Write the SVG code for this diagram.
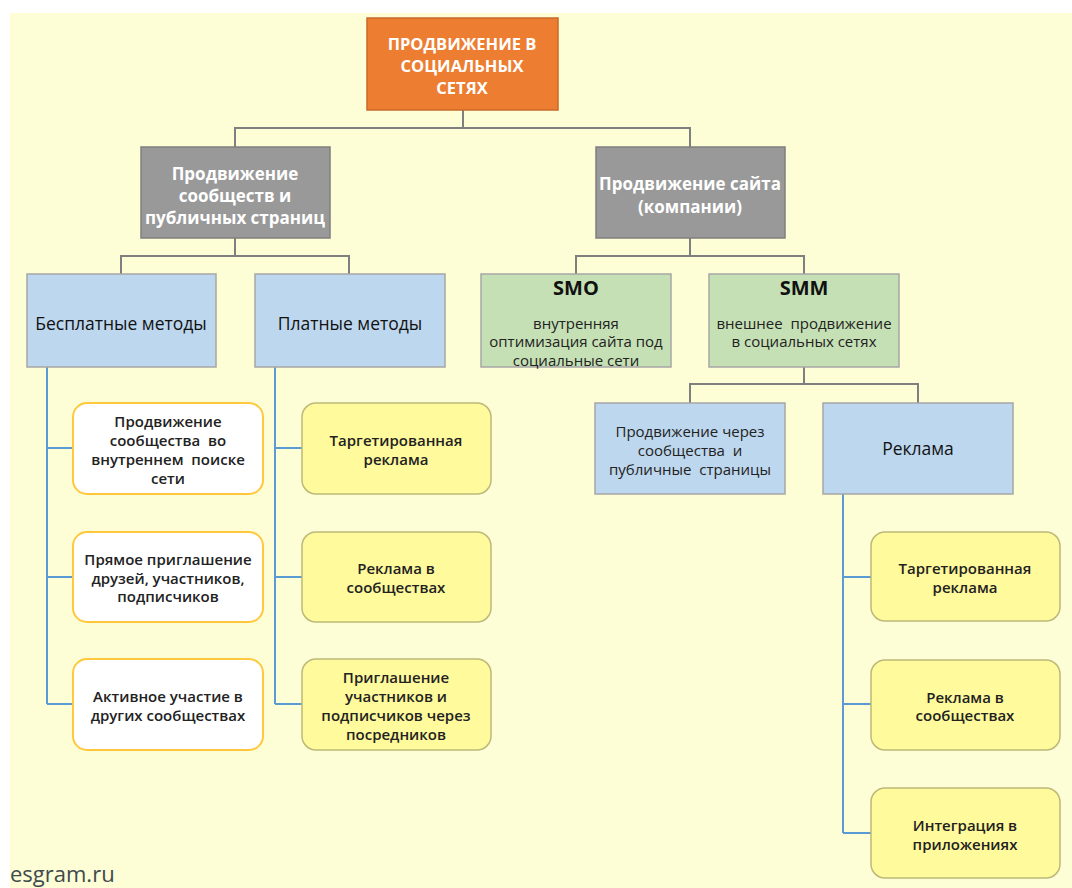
<svg xmlns="http://www.w3.org/2000/svg" width="1072" height="888" viewBox="0 0 1072 888">
<style>
.bg{fill:#FDFDD6}
.orange{fill:#ED7D31;stroke:#C8692A;stroke-width:1.5}
.gray{fill:#999999;stroke:#7F7F7F;stroke-width:1.5}
.blue{fill:#BDD7EE;stroke:#A6A6A6;stroke-width:1.5}
.green{fill:#C5E0B4;stroke:#A6A6A6;stroke-width:1.5}
.white{fill:#FFFFFF;stroke:#FFC83D;stroke-width:2}
.yellow{fill:#FFFA9B;stroke:#BDB97A;stroke-width:1.5}
.cg{fill:none;stroke:#7F7F7F;stroke-width:2}
.cb{fill:none;stroke:#5B9BD5;stroke-width:2}
text{font-family:"Open Sans","Liberation Sans",sans-serif;text-anchor:middle;dominant-baseline:central}
.t0{fill:#FFFFFF;font-weight:700;font-size:16.5px}
.t1{fill:#FFFFFF;font-weight:700;font-size:17px}
.t2{fill:#111111;font-size:17.5px}
.t3{fill:#111111;font-weight:700;font-size:20px}
.t4{fill:#222222;font-size:15px}
.t6{fill:#222222;font-size:15px}
.t5{fill:#222222;font-weight:600;font-size:15px}
.wm{fill:#3E4B4B;font-size:22px;text-anchor:start;dominant-baseline:auto}
</style>
<rect class="bg" x="10" y="13" width="1062" height="875"/>
<g id="connectors">
<path class="cg" d="M463 110V128M235 147V128H690V147"/>
<path class="cg" d="M235 238V256M121 274V256H349V274"/>
<path class="cg" d="M690 238V256M576 274V256H804V274"/>
<path class="cg" d="M804 367V384M690 403V384H918V403"/>
<path class="cb" d="M47 367V704M47 448H73M47 577H73M47 704H73"/>
<path class="cb" d="M275 367V704M275 448H302M275 577H302M275 704H302"/>
<path class="cb" d="M843 494V833M843 577H871M843 704H871M843 833H871"/>
</g>
<g id="root">
<rect class="orange" x="367" y="18" width="191" height="92"/>
<text class="t0" x="462" y="43">ПРОДВИЖЕНИЕ В</text>
<text class="t0" x="462" y="65">СОЦИАЛЬНЫХ</text>
<text class="t0" x="462" y="87">СЕТЯХ</text>
</g>
<g id="communities">
<rect class="gray" x="141" y="147" width="189" height="91"/>
<text class="t1" x="235" y="173">Продвижение</text>
<text class="t1" x="235" y="195">сообществ и</text>
<text class="t1" x="235" y="217">публичных страниц</text>
</g>
<g id="site">
<rect class="gray" x="596" y="147" width="189" height="91"/>
<text class="t1" x="690" y="183">Продвижение сайта</text>
<text class="t1" x="690" y="206">(компании)</text>
</g>
<g id="free">
<rect class="blue" x="27" y="274" width="189" height="93"/>
<text class="t2" x="121" y="323">Бесплатные методы</text>
</g>
<g id="paid">
<rect class="blue" x="255" y="274" width="190" height="93"/>
<text class="t2" x="350" y="323">Платные методы</text>
</g>
<g id="smo">
<rect class="green" x="481" y="274" width="190" height="93"/>
<text class="t3" x="576" y="287">SMO</text>
<text class="t4" x="576" y="323">внутренняя</text>
<text class="t4" x="576" y="341">оптимизация сайта под</text>
<text class="t4" x="576" y="360">социальные сети</text>
</g>
<g id="smm">
<rect class="green" x="709" y="274" width="190" height="93"/>
<text class="t3" x="804" y="287">SMM</text>
<text class="t4" x="804" y="323" xml:space="preserve">внешнее  продвижение</text>
<text class="t4" x="804" y="341">в социальных сетях</text>
</g>
<g id="via-communities">
<rect class="blue" x="595" y="403" width="190" height="91"/>
<text class="t6" x="690" y="431">Продвижение через</text>
<text class="t6" x="690" y="450" xml:space="preserve">сообщества  и</text>
<text class="t6" x="690" y="469" xml:space="preserve">публичные  страницы</text>
</g>
<g id="ads">
<rect class="blue" x="823" y="403" width="190" height="91"/>
<text class="t2" x="918" y="448">Реклама</text>
</g>
<g id="free1">
<rect class="white" x="73" y="403" width="190" height="91" rx="14"/>
<text class="t5" x="168" y="421">Продвижение</text>
<text class="t5" x="168" y="440" xml:space="preserve">сообщества  во</text>
<text class="t5" x="168" y="459" xml:space="preserve">внутреннем  поиске</text>
<text class="t5" x="168" y="478">сети</text>
</g>
<g id="free2">
<rect class="white" x="73" y="532" width="190" height="90" rx="14"/>
<text class="t5" x="168" y="559">Прямое приглашение</text>
<text class="t5" x="168" y="578">друзей, участников,</text>
<text class="t5" x="168" y="596">подписчиков</text>
</g>
<g id="free3">
<rect class="white" x="73" y="659" width="190" height="91" rx="14"/>
<text class="t5" x="168" y="696">Активное участие в</text>
<text class="t5" x="168" y="715">других сообществах</text>
</g>
<g id="paid1">
<rect class="yellow" x="302" y="403" width="189" height="91" rx="14"/>
<text class="t5" x="396" y="440">Таргетированная</text>
<text class="t5" x="396" y="459">реклама</text>
</g>
<g id="paid2">
<rect class="yellow" x="302" y="532" width="189" height="90" rx="14"/>
<text class="t5" x="396" y="568">Реклама в</text>
<text class="t5" x="396" y="587">сообществах</text>
</g>
<g id="paid3">
<rect class="yellow" x="302" y="659" width="189" height="91" rx="14"/>
<text class="t5" x="396" y="677">Приглашение</text>
<text class="t5" x="396" y="696">участников и</text>
<text class="t5" x="396" y="715">подписчиков через</text>
<text class="t5" x="396" y="734">посредников</text>
</g>
<g id="ads1">
<rect class="yellow" x="871" y="532" width="189" height="89" rx="14"/>
<text class="t5" x="965" y="568">Таргетированная</text>
<text class="t5" x="965" y="587">реклама</text>
</g>
<g id="ads2">
<rect class="yellow" x="871" y="660" width="189" height="90" rx="14"/>
<text class="t5" x="965" y="697">Реклама в</text>
<text class="t5" x="965" y="715">сообществах</text>
</g>
<g id="ads3">
<rect class="yellow" x="871" y="788" width="189" height="90" rx="14"/>
<text class="t5" x="965" y="825">Интеграция в</text>
<text class="t5" x="965" y="844">приложениях</text>
</g>
<text class="wm" x="10" y="882">esgram.ru</text>
</svg>
